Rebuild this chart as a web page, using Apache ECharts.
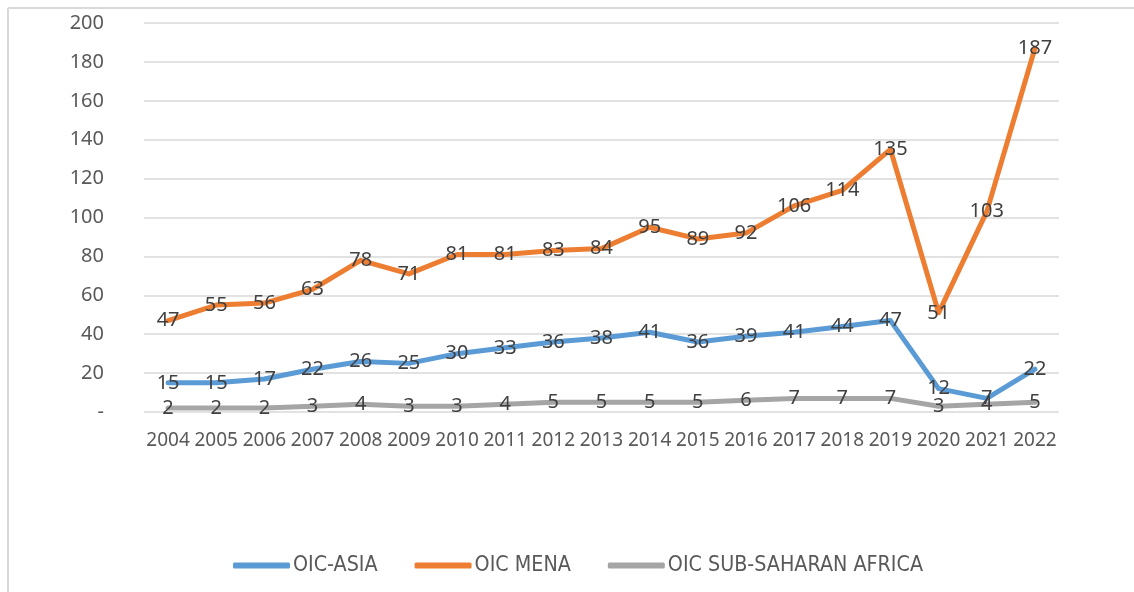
<!DOCTYPE html>
<html>
<head>
    <meta charset="utf-8">
    <title></title>
    <style>
        html, body { margin: 0; padding: 0; background: #fff; }
        #main { width: 1134px; height: 592px; }
    </style>
</head>
<body>
<div id="main"></div>
<script src="https://cdn.jsdelivr.net/npm/echarts@6/dist/echarts.min.js"></script>
<script type="text/javascript">
    var years = ['2004', '2005', '2006', '2007', '2008', '2009', '2010', '2011', '2012', '2013',
        '2014', '2015', '2016', '2017', '2018', '2019', '2020', '2021', '2022'];
    var asia = [15, 15, 17, 22, 26, 25, 30, 33, 36, 38, 41, 36, 39, 41, 44, 47, 12, 7, 22];
    var mena = [47, 55, 56, 63, 78, 71, 81, 81, 83, 84, 95, 89, 92, 106, 114, 135, 51, 103, 187];
    var ssa = [2, 2, 2, 3, 4, 3, 3, 4, 5, 5, 5, 5, 6, 7, 7, 7, 3, 4, 5];
    var yTicks = [0, 20, 40, 60, 80, 100, 120, 140, 160, 180, 200];

    var textColor = '#595959';
    var numFont = 'Noto Sans';
    var narrowFont = "'DejaVu Sans Condensed', 'Liberation Sans Narrow', 'Noto Sans'";

    function mkSeries(name, data, color) {
        return {
            name: name,
            type: 'line',
            data: data,
            symbol: 'circle',
            symbolSize: 1,
            itemStyle: { color: color },
            lineStyle: { width: 5, color: color, cap: 'round', join: 'round' },
            label: {
                show: true,
                position: 'inside',
                color: '#404040',
                fontFamily: numFont,
                fontSize: 20
            }
        };
    }

    var myChart = echarts.init(document.getElementById('main'));
    var option = {
        animation: false,
        graphic: [
            { type: 'line', shape: { x1: 8, y1: 8, x2: 1134, y2: 8 }, style: { stroke: '#d9d9d9', lineWidth: 2 } },
            { type: 'line', shape: { x1: 8, y1: 8, x2: 8, y2: 592 }, style: { stroke: '#d9d9d9', lineWidth: 2 } }
        ],
        grid: { left: 144, right: 75, top: 23, bottom: 180 },
        legend: {
            top: 550,
            left: 228,
            itemWidth: 57,
            itemHeight: 6,
            itemGap: 37,
            icon: 'roundRect',
            textStyle: { color: textColor, fontFamily: narrowFont, fontSize: 21.3, padding: [0, 0, 0, -2] },
            data: ['OIC-ASIA', 'OIC MENA', 'OIC SUB-SAHARAN AFRICA']
        },
        xAxis: {
            type: 'category',
            data: years,
            axisLine: { show: false },
            axisTick: { show: false },
            axisLabel: { color: textColor, fontFamily: numFont, fontSize: 19, margin: 19, interval: 0 }
        },
        yAxis: {
            type: 'value',
            min: yTicks[0],
            max: yTicks[yTicks.length - 1],
            interval: 20,
            axisLine: { show: false },
            axisTick: { show: false },
            splitLine: { lineStyle: { color: '#d9d9d9', width: 1.5 } },
            axisLabel: {
                color: textColor, fontFamily: numFont, fontSize: 20, margin: 40,
                formatter: function (v) { return v === 0 ? '-' : v; }
            }
        },
        series: [
            mkSeries('OIC-ASIA', asia, '#5B9BD5'),
            mkSeries('OIC MENA', mena, '#ED7D31'),
            mkSeries('OIC SUB-SAHARAN AFRICA', ssa, '#A5A5A5')
        ]
    };
    myChart.setOption(option);
</script>
</body>
</html>
